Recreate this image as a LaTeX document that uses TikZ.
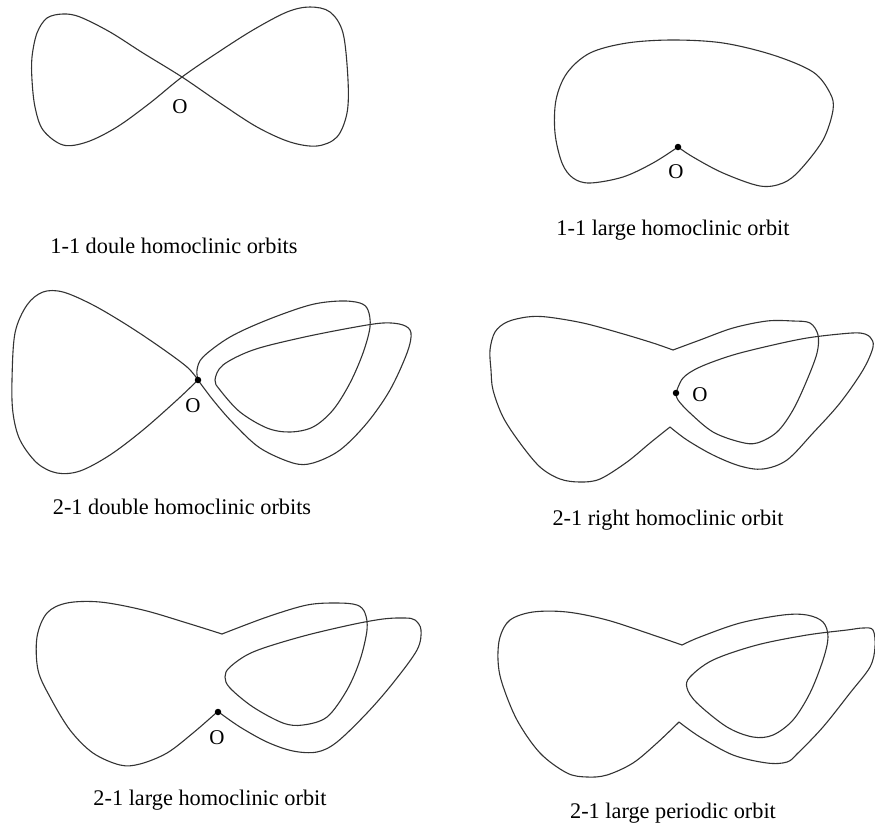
\documentclass[tikz,border=0pt]{standalone}
\usepackage{fontspec}
\setmainfont{Liberation Serif}
\usepackage{tikz}
\usetikzlibrary{positioning}

\begin{document}
\begin{tikzpicture}[x=1pt, y=-1pt,
    orbit/.style={line width=1.1pt, draw=black!80, line join=round},
    saddle/.style={circle, fill=black, inner sep=0pt, minimum size=6.5pt},
    olabel/.style={font=\fontsize{21}{23}\selectfont, inner sep=0pt},
    capt/.style={font=\fontsize{22.3}{26}\selectfont, inner sep=0pt}]
    \useasboundingbox (0,0) rectangle (875,825);

    % 1-1 double
    \draw[orbit] plot[smooth cycle, tension=0.55] coordinates {
        (182,77) (143,53) (110,32) (80,17) (63,14) (47,18) (37,33) (32,57)
        (32,80) (35,107) (43,130) (63,145) (87,142) (117,127) (150,103)
        (182,77) (217,53) (253,30) (287,12) (310,7) (330,12) (343,33)
        (348,80) (347,113) (337,137) (317,146) (290,142) (257,127) (220,103)};
    \node[olabel] (o1) at (180,107) {O};

    % 1-1 large
    \draw[orbit] plot[smooth, tension=0.55] coordinates {
        (678,147) (693,157) (723,173) (760,186) (783,183) (800,170) (823,140)
        (833,110) (830,93) (813,72) (773,55) (723,43) (673,40) (627,43)
        (590,53) (567,73) (556,100) (555,133) (562,163) (573,178) (590,183)
        (623,177) (653,163) (678,147)};
    \node[saddle] (p2) at (678,147) {};
    \node[olabel] (o2) at (676,172) {O};

    % 2-1 double
    \draw[orbit] plot[smooth, tension=0.55] coordinates {
        (198,380) (187,367) (160,347) (127,325) (93,305) (63,292) (43,292)
        (27,305) (15,333) (12,380) (13,413) (20,440) (37,463) (57,473)
        (80,471) (110,455) (143,430) (177,400) (198,380)};
    \draw[orbit] plot[smooth, tension=0.55] coordinates {
        (198,380) (213,400) (233,423) (260,448) (293,463) (313,463) (340,450)
        (367,423) (390,390) (407,353) (411,333) (403,325) (383,323) (350,328)
        (300,338) (253,350) (223,365) (215,380) (220,390) (240,412) (267,428)
        (290,432) (313,427) (333,410) (350,383) (363,353) (370,327) (368,310)
        (360,303) (340,301) (310,305) (267,320) (230,337) (203,357) (197,370)
        (198,380)};
    \node[saddle] (p3) at (198,380) {};
    \node[olabel] (o3) at (193,406) {O};

    % 2-1 right
    \draw[orbit] plot[smooth, tension=0.55] coordinates {
        (676,393) (678,400) (690,413) (713,432) (740,442) (757,443) (777,432)
        (793,410) (807,380) (817,353) (818,335) (810,323) (793,321) (767,321)
        (733,328) (700,340) (673,350)};
    \draw[orbit] plot[smooth, tension=0.55] coordinates {
        (673,350) (653,343) (620,333) (583,323) (547,317) (527,317) (507,322)
        (495,332) (490,350) (491,370) (493,390) (503,417) (520,443) (540,467)
        (560,479) (580,482) (600,479) (627,462) (650,443) (670,427)};
    \draw[orbit] plot[smooth, tension=0.55] coordinates {
        (670,427) (687,440) (713,455) (740,466) (763,469) (787,460) (813,433)
        (840,403) (863,370) (873,347) (870,337) (860,333) (840,334) (807,338)
        (773,345) (733,355) (700,367) (683,378) (676,393)};
    \node[saddle] (p4) at (676,393) {};
    \node[olabel] (o4) at (700,395) {O};

    % 2-1 large homoclinic
    \draw[orbit] plot[smooth, tension=0.55] coordinates {
        (220,713) (240,727) (267,742) (293,751) (317,752) (337,742) (367,713)
        (393,683) (417,650) (421,630) (415,620) (405,618) (383,619) (350,625)
        (300,637) (253,652) (230,667) (225,677) (230,688) (253,707) (283,723)
        (303,725) (327,717) (347,690) (360,660) (367,630) (365,613) (357,605)
        (337,603) (307,605) (267,617) (222,634)};
    \draw[orbit] plot[smooth, tension=0.55] coordinates {
        (222,634) (187,623) (143,610) (100,602) (67,603) (47,613) (37,637)
        (38,670) (50,697) (70,730) (93,753) (120,765) (140,764) (167,753)
        (193,733) (216,713)};
    \node[saddle] (p5) at (218,712) {};
    \node[olabel] (o5) at (217,738) {O};

    % 2-1 periodic
    \draw[orbit] plot[smooth, tension=0.55] coordinates {
        (682,645) (653,635) (607,620) (567,612) (533,612) (510,620) (500,637)
        (498,660) (502,683) (517,720) (540,753) (567,773) (587,777) (607,775)
        (633,763) (657,743) (679,722)};
    \draw[orbit] plot[smooth, tension=0.55] coordinates {
        (679,722) (700,737) (733,755) (767,763) (787,762) (798,753) (823,727)
        (850,693) (870,667) (875,647) (873,630) (863,628) (847,630) (807,635)
        (757,645) (713,660) (690,677) (687,688) (697,703) (727,727) (753,737)
        (773,735) (793,720) (810,693) (823,660) (828,637) (823,622) (807,615)
        (783,615) (740,623) (700,637) (682,645)};

    % captions
    \foreach \n/\x/\y/\t in {1/174/246/1-1 doule homoclinic orbits,
                             2/673/230/1-1 large homoclinic orbit,
                             3/182/507/2-1 double homoclinic orbits,
                             4/668/520/2-1 right homoclinic orbit,
                             5/210/800/2-1 large homoclinic orbit,
                             6/673/813/2-1 large periodic orbit}
        \node[capt] (cap\n) at (\x,\y) {\t};
\end{tikzpicture}
\end{document}
